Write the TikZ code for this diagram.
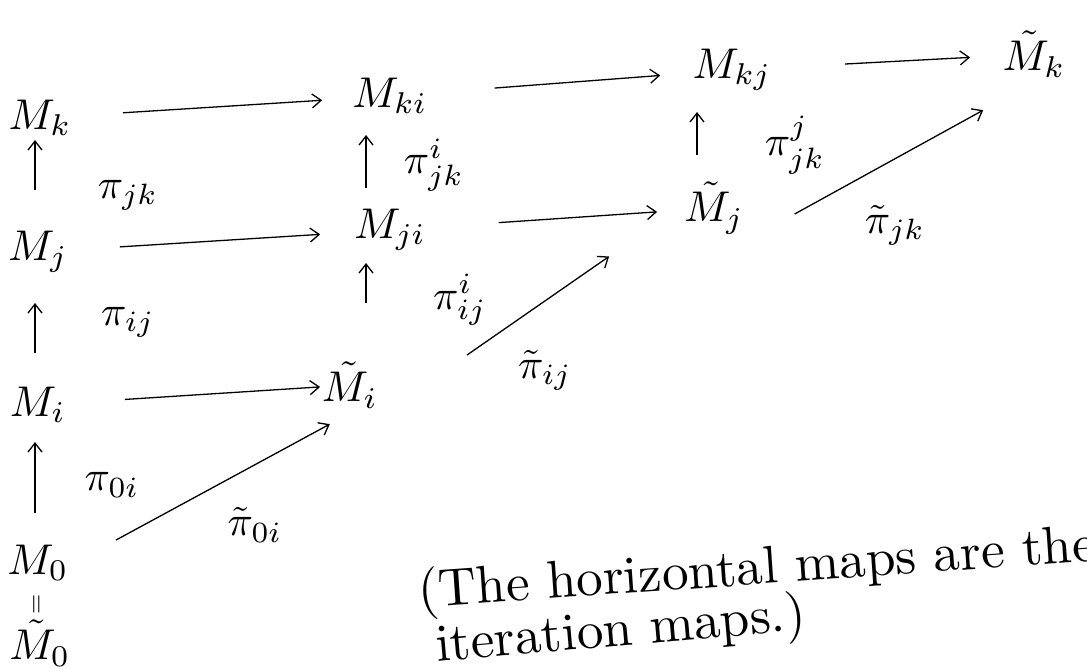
\documentclass[tikz,border=0pt]{standalone}
\usetikzlibrary{arrows.meta}
\begin{document}
\begin{tikzpicture}[x=1pt,y=-1pt,
  obj/.style={scale=4.3,inner sep=1pt},
  lbl/.style={scale=4.2,inner sep=1pt},
  captext/.style={scale=5.3,inner sep=0pt,anchor=base west},
  map/.style={-{Straight Barb[length=9pt,width=14pt]},line width=1.3pt}]
\useasboundingbox (0,0) rectangle (1087,669);
% column abscissae of the vertical maps
\coordinate (cL) at (35,0);
\coordinate (cM) at (366,0);
\coordinate (cR) at (697,0);
% objects
\node[obj] (Mk)  at (40,118)  {$M_k$};
\node[obj] (Mki) at (390,96)  {$M_{ki}$};
\node[obj] (Mkj) at (732,70)  {$M_{kj}$};
\node[obj] (tMk) at (1034,54) {$\tilde M_k$};
\node[obj] (Mj)  at (38,252)  {$M_j$};
\node[obj] (Mji) at (390,230) {$M_{ji}$};
\node[obj] (tMj) at (714,208) {$\tilde M_j$};
\node[obj] (Mi)  at (38,405)  {$M_i$};
\node[obj] (tMi) at (350,385) {$\tilde M_i$};
\node[obj] (M0)  at (38,563)  {$M_0$};
\node[scale=2.6,rotate=90,inner sep=0pt] (eq) at (38,604) {$=$};
\node[obj] (tM0) at (40,643)  {$\tilde M_0$};
% horizontal maps
\draw[map,shorten <=83pt,shorten >=68pt] (Mk.center) -- (Mki.center);
\draw[map,shorten <=105pt,shorten >=72pt] (Mki.center) -- (Mkj.center);
\draw[map,shorten <=113pt,shorten >=64pt] (Mkj.center) -- (tMk.center);
\draw[map,shorten <=82pt,shorten >=70pt] (Mj.center) -- (Mji.center);
\draw[map,shorten <=109pt,shorten >=57pt] (Mji.center) -- (tMj.center);
\draw[map,shorten <=87pt,shorten >=30pt] (Mi.center) -- (tMi.center);
% diagonal maps
\draw[map,shorten <=48pt,shorten >=23pt] (M0.east) -- (tMi.south);
\draw[map,shorten <=102pt,shorten >=85pt] (tMi.south east) -- (tMj.west);
\draw[map,shorten <=52pt,shorten >=58pt] (tMj.south east) -- (tMk.south);
% vertical maps
\draw[map,shorten <=62pt,shorten >=22pt] (Mj.center -| cL) -- (Mk.center -| cL);
\draw[map,shorten <=52pt,shorten >=51pt] (Mi.center -| cL) -- (Mj.center -| cL);
\draw[map,shorten <=50pt,shorten >=37pt] (M0.center -| cL) -- (Mi.center -| cL);
\draw[map,shorten <=42pt,shorten >=39pt] (Mji.center -| cM) -- (Mki.center -| cM);
\draw[map,shorten <=82pt,shorten >=33pt] (tMi.center -| cM) -- (Mji.center -| cM);
\draw[map,shorten <=53pt,shorten >=42pt] (tMj.center -| cR) -- (Mkj.center -| cR);
% labels
\node[lbl] (ljk)  at (128,195) {$\pi_{jk}$};
\node[lbl] (lij)  at (128,322) {$\pi_{ij}$};
\node[lbl] (l0i)  at (112,485) {$\pi_{0i}$};
\node[lbl] (lijk) at (434,165) {$\pi^{i}_{jk}$};
\node[lbl] (liij) at (460,300) {$\pi^{i}_{ij}$};
\node[lbl] (ljjk) at (795,145) {$\pi^{j}_{jk}$};
\node[lbl] (t0i)  at (255,525) {$\tilde\pi_{0i}$};
\node[lbl] (tij)  at (545,370) {$\tilde\pi_{ij}$};
\node[lbl] (tjk)  at (895,225) {$\tilde\pi_{jk}$};
% caption
\node[captext,rotate=4] (c1) at (418,608) {(The horizontal maps are the};
\node[captext,rotate=5] (c2) at (436,662) {iteration maps.)};
\end{tikzpicture}
\end{document}
